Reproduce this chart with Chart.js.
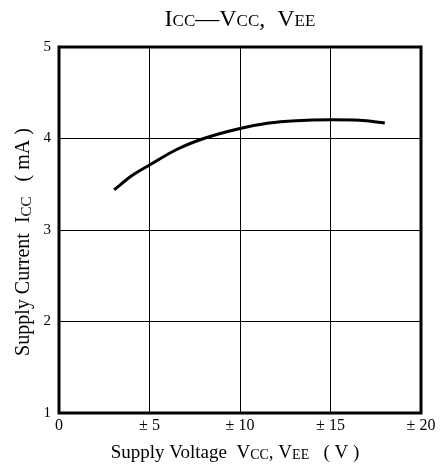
<!DOCTYPE html>
<html>
<head>
<meta charset="utf-8">
<script src="https://cdn.jsdelivr.net/npm/chart.js@4"></script>
<style>
html,body{margin:0;padding:0;background:#fff;}
#wrap{width:447px;height:471px;}
</style>
</head>
<body>
<div id="wrap"><canvas id="c" width="447" height="471"></canvas></div>
<script>
// Data
const voltage = [3.05, 4, 5, 6.5, 8, 10, 11.6, 13.1, 15, 16.6, 18];
const current = [3.44, 3.59, 3.71, 3.88, 4.0, 4.11, 4.17, 4.195, 4.205, 4.2, 4.17];
const xTickLabels = ['0', '± 5', '± 10', '± 15', '± 20'];
const yTickLabels = ['1', '2', '3', '4', '5'];

const SERIF = '"Liberation Serif", "Times New Roman", serif';

function drawRich(ctx, segs, x, y, size, subSize, rot, subDrop) {
  ctx.save();
  ctx.translate(x, y);
  if (rot) ctx.rotate(rot);
  ctx.fillStyle = '#000';
  ctx.textBaseline = 'alphabetic';
  ctx.textAlign = 'left';
  let total = 0;
  const widths = segs.map(s => {
    ctx.font = (s[1] ? subSize : size) + 'px ' + SERIF;
    const w = ctx.measureText(s[0]).width;
    total += w;
    return w;
  });
  let cx = -total / 2;
  const base = size * 0.35;
  segs.forEach((s, i) => {
    ctx.font = (s[1] ? subSize : size) + 'px ' + SERIF;
    ctx.fillText(s[0], cx, base + (s[1] ? subDrop : 0));
    cx += widths[i];
  });
  ctx.restore();
}

const textPlugin = {
  id: 'textPlugin',
  afterDraw(chart) {
    const ctx = chart.ctx;
    const a = chart.chartArea;
    // thick frame
    ctx.save();
    ctx.strokeStyle = '#000';
    ctx.lineWidth = 3;
    ctx.strokeRect(a.left, a.top, a.right - a.left, a.bottom - a.top);
    ctx.restore();
    // title
    drawRich(ctx, [['I',0],['CC',1],['—',0],['V',0],['CC',1],[',  V',0],['EE',1]],
      240, 18, 24, 17, 0, 0);
    // x axis title
    drawRich(ctx, [['Supply Voltage  V',0],['CC',1],[', V',0],['EE',1],['   ( V )',0]],
      235, 451, 19, 14, 0, 1.5);
    // y axis title
    drawRich(ctx, [['Supply Current  I',0],['CC',1],['   ( mA )',0]],
      22, 242, 20, 15, -Math.PI / 2, 1.5);
  }
};

new Chart(document.getElementById('c'), {
  type: 'line',
  data: {
    datasets: [{
      data: voltage.map((v, i) => ({x: v, y: current[i]})),
      borderColor: '#000',
      borderWidth: 3,
      pointRadius: 0,
      cubicInterpolationMode: 'monotone',
      fill: false
    }]
  },
  options: {
    responsive: false,
    animation: false,
    layout: {padding: {top: 47, right: 26, left: 0, bottom: 0}},
    plugins: {legend: {display: false}, tooltip: {enabled: false}, title: {display: false}},
    scales: {
      x: {
        type: 'linear', min: 0, max: 20,
        afterFit(s) { s.height = 58; },
        grid: {color: '#000', lineWidth: 1, drawTicks: false},
        border: {display: false},
        ticks: {
          stepSize: 5, padding: 3, color: '#000', maxRotation: 0,
          font: {family: SERIF, size: 16},
          callback: (v) => xTickLabels[Math.round(v / 5)]
        }
      },
      y: {
        type: 'linear', min: 1, max: 5,
        afterFit(s) { s.width = 59; },
        grid: {color: '#000', lineWidth: 1, drawTicks: false},
        border: {display: false},
        ticks: {
          stepSize: 1, padding: 8, color: '#000',
          font: {family: SERIF, size: 15},
          callback: (v) => yTickLabels[Math.round(v - 1)]
        }
      }
    }
  },
  plugins: [textPlugin]
});
</script>
</body>
</html>
